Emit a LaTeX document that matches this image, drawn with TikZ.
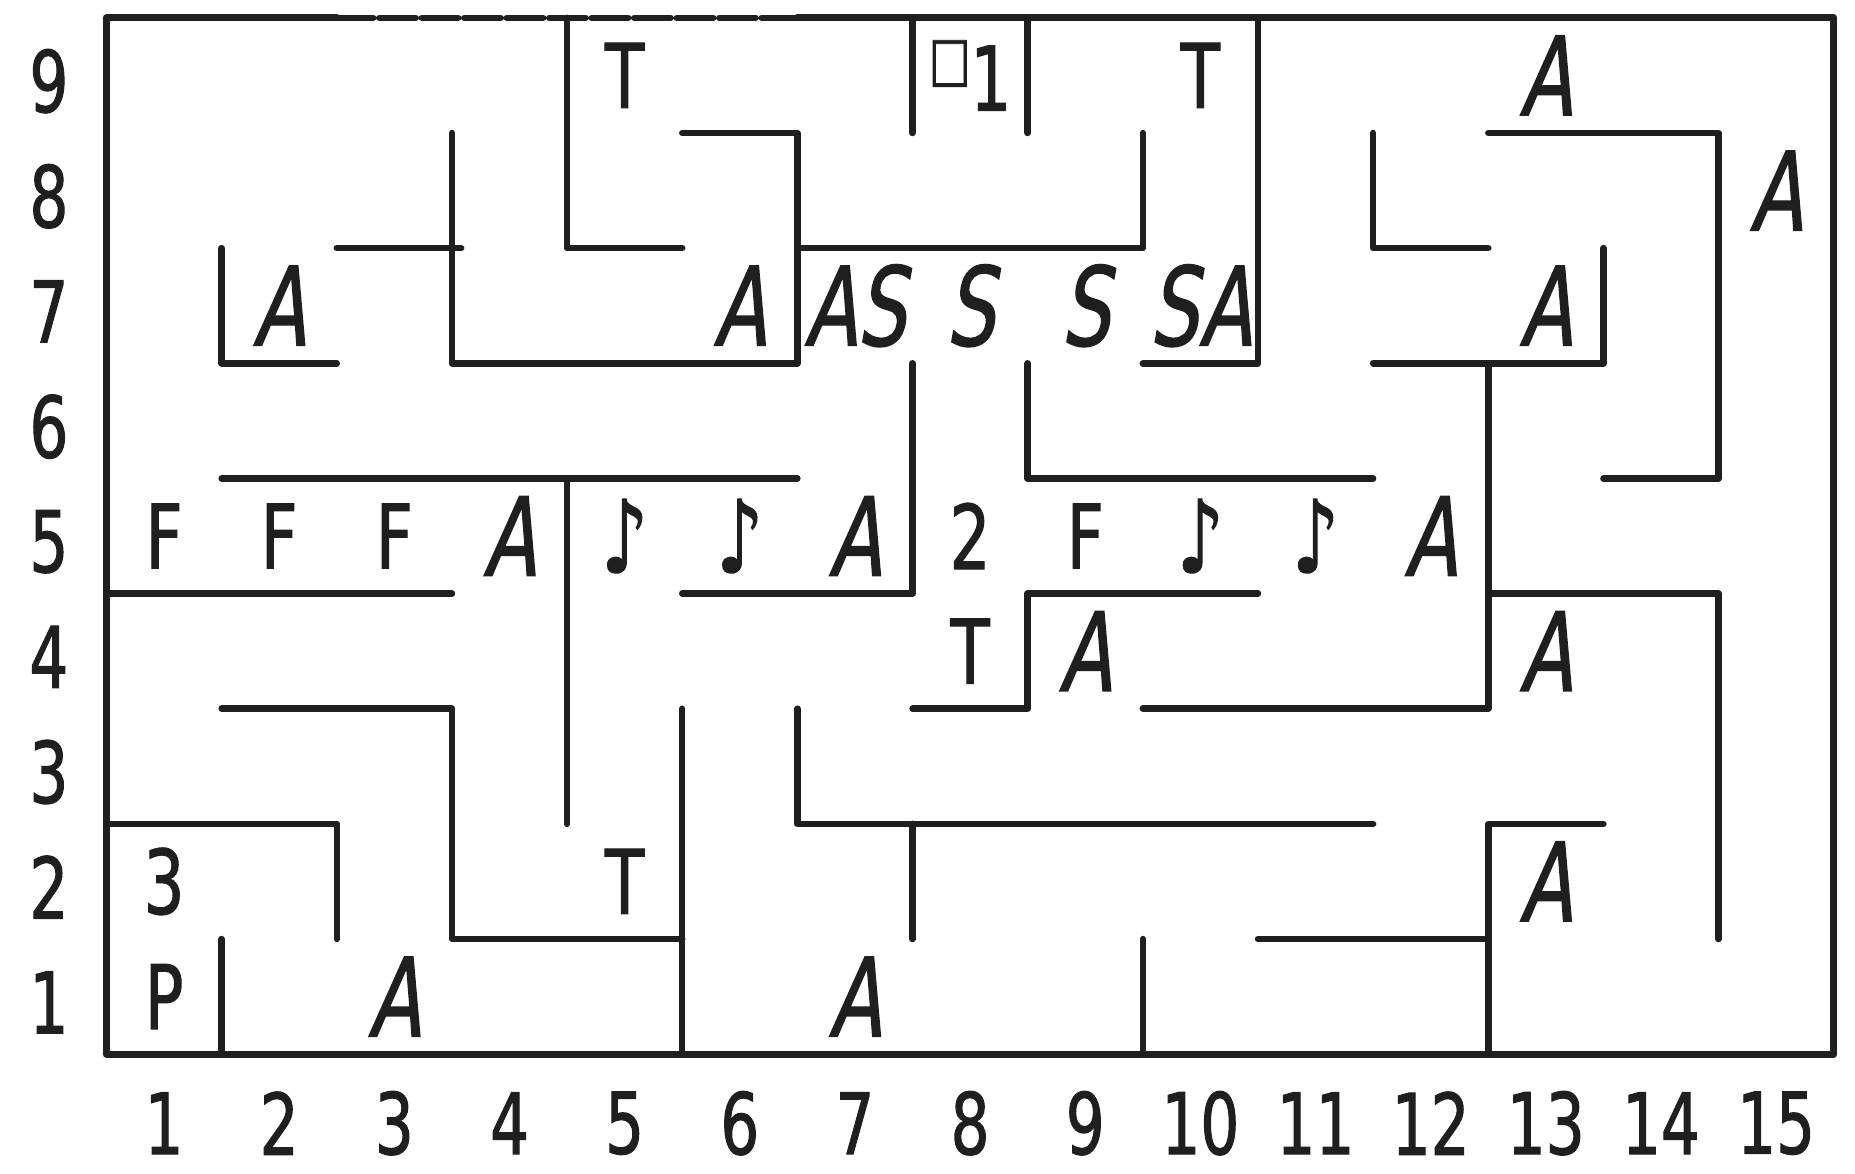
\documentclass[tikz,border=0pt]{standalone}
\usepackage{fontspec}
\newfontfamily\hand{DejaVu Sans}[FakeStretch=0.72,FakeBold=1.2]
\newfontfamily\handsl{DejaVu Sans}[FakeStretch=0.7,FakeSlant=0.18,FakeBold=1.2]
\usepackage{tikz}
\newcommand{\cell}[2]{({#1-0.5},{#2-0.5})}
\colorlet{ink}{black!88}
\tikzset{
  wall/.style={draw=ink, line width=1.6pt, line cap=round, line join=round},
  sign/.style={text=ink, inner sep=0pt, font=\hand\fontsize{22}{22}\selectfont},
  bigsign/.style={sign, font=\handsl\fontsize{27}{27}\selectfont},
  notesign/.style={sign, font=\hand\fontsize{25}{25}\selectfont},
  axislab/.style={text=ink, inner sep=0pt, font=\hand\fontsize{21}{21}\selectfont}
}

\begin{document}
\begin{tikzpicture}[x=1cm, y=1cm]
  \useasboundingbox (-0.925,-1.04) rectangle (15.185,9.155);
  % outer frame, the top stretch over columns 3 to 6 is only faint
  \draw[wall, line width=1.8pt] (2,9) -- (0,9) -- (0,0) -- (15,0) -- (15,9) -- (6,9);
  \draw[wall, dash pattern=on 9pt off 1.5pt] (2,9) -- (6,9);
  % inner walls
  \foreach \p in {
      {(5,8) -- (6,8) -- (6,6) -- (3,6) -- (3,8)},
      {(2,7) -- (3.08,7)},
      {(1,7) -- (1,6) -- (2,6)},
      {(4,9) -- (4,7) -- (5,7)},
      {(7,9) -- (7,8)}, {(8,9) -- (8,8)},
      {(6,7) -- (9,7) -- (9,8)},
      {(10,9) -- (10,6) -- (9,6)},
      {(11,8) -- (11,7) -- (12,7)},
      {(12,8) -- (14,8) -- (14,5) -- (13,5)},
      {(13,7) -- (13,6) -- (11,6)},
      {(12,6) -- (12,3) -- (9,3)},
      {(1,5) -- (6,5)}, {(4,5) -- (4,2)},
      {(7,6) -- (7,4) -- (5,4)},
      {(8,6) -- (8,5) -- (11,5)},
      {(0,4) -- (3,4)},
      {(7,3) -- (8,3) -- (8,4) -- (10,4)},
      {(12,4) -- (14,4) -- (14,1)},
      {(1,3) -- (3,3) -- (3,1) -- (5,1)}, {(5,3) -- (5,0)},
      {(0,2) -- (2,2) -- (2,1)},
      {(6,3) -- (6,2) -- (11,2)}, {(7,2) -- (7,1)},
      {(13,2) -- (12,2) -- (12,0)}, {(10,1) -- (12,1)},
      {(9,1) -- (9,0)}, {(1,1) -- (1,0)}}{
    \draw[wall] \p;
  }
  % cell signs
  \foreach \c/\r/\t in {13/9/A, 15/8/A, 2/7/A, 6/7/A, 7/7/AS, 8/7/S, 9/7/S, 10/7/SA,
      13/7/A, 4/5/A, 7/5/A, 12/5/A, 9/4/A, 13/4/A, 13/2/A, 3/1/A, 7/1/A}{
    \node[bigsign] (s-\c-\r) at \cell{\c}{\r} {\t};
  }
  \foreach \c/\r/\t in {5/9/T, 10/9/T, 1/5/F, 2/5/F, 3/5/F, 9/5/F, 8/5/2, 8/4/T,
      1/2/3, 5/2/T, 1/1/P}{
    \node[sign] (s-\c-\r) at \cell{\c}{\r} {\t};
  }
  \foreach \c in {5,6,10,11}{
    \node[notesign] (s-\c-5) at \cell{\c}{5} {♪};
  }
  \node[sign] (s-8-9) at \cell{8}{9} {{\fontsize{15}{15}\selectfont□}\raisebox{-0.35em}{1}};
  % row and column numbers
  \foreach \r in {1,...,9}{
    \node[axislab] (row\r) at (-0.5,{\r-0.55}) {\r};
  }
  \foreach \c in {1,...,15}{
    \node[axislab] (col\c) at ({\c-0.5},-0.6) {\c};
  }
\end{tikzpicture}
\end{document}
